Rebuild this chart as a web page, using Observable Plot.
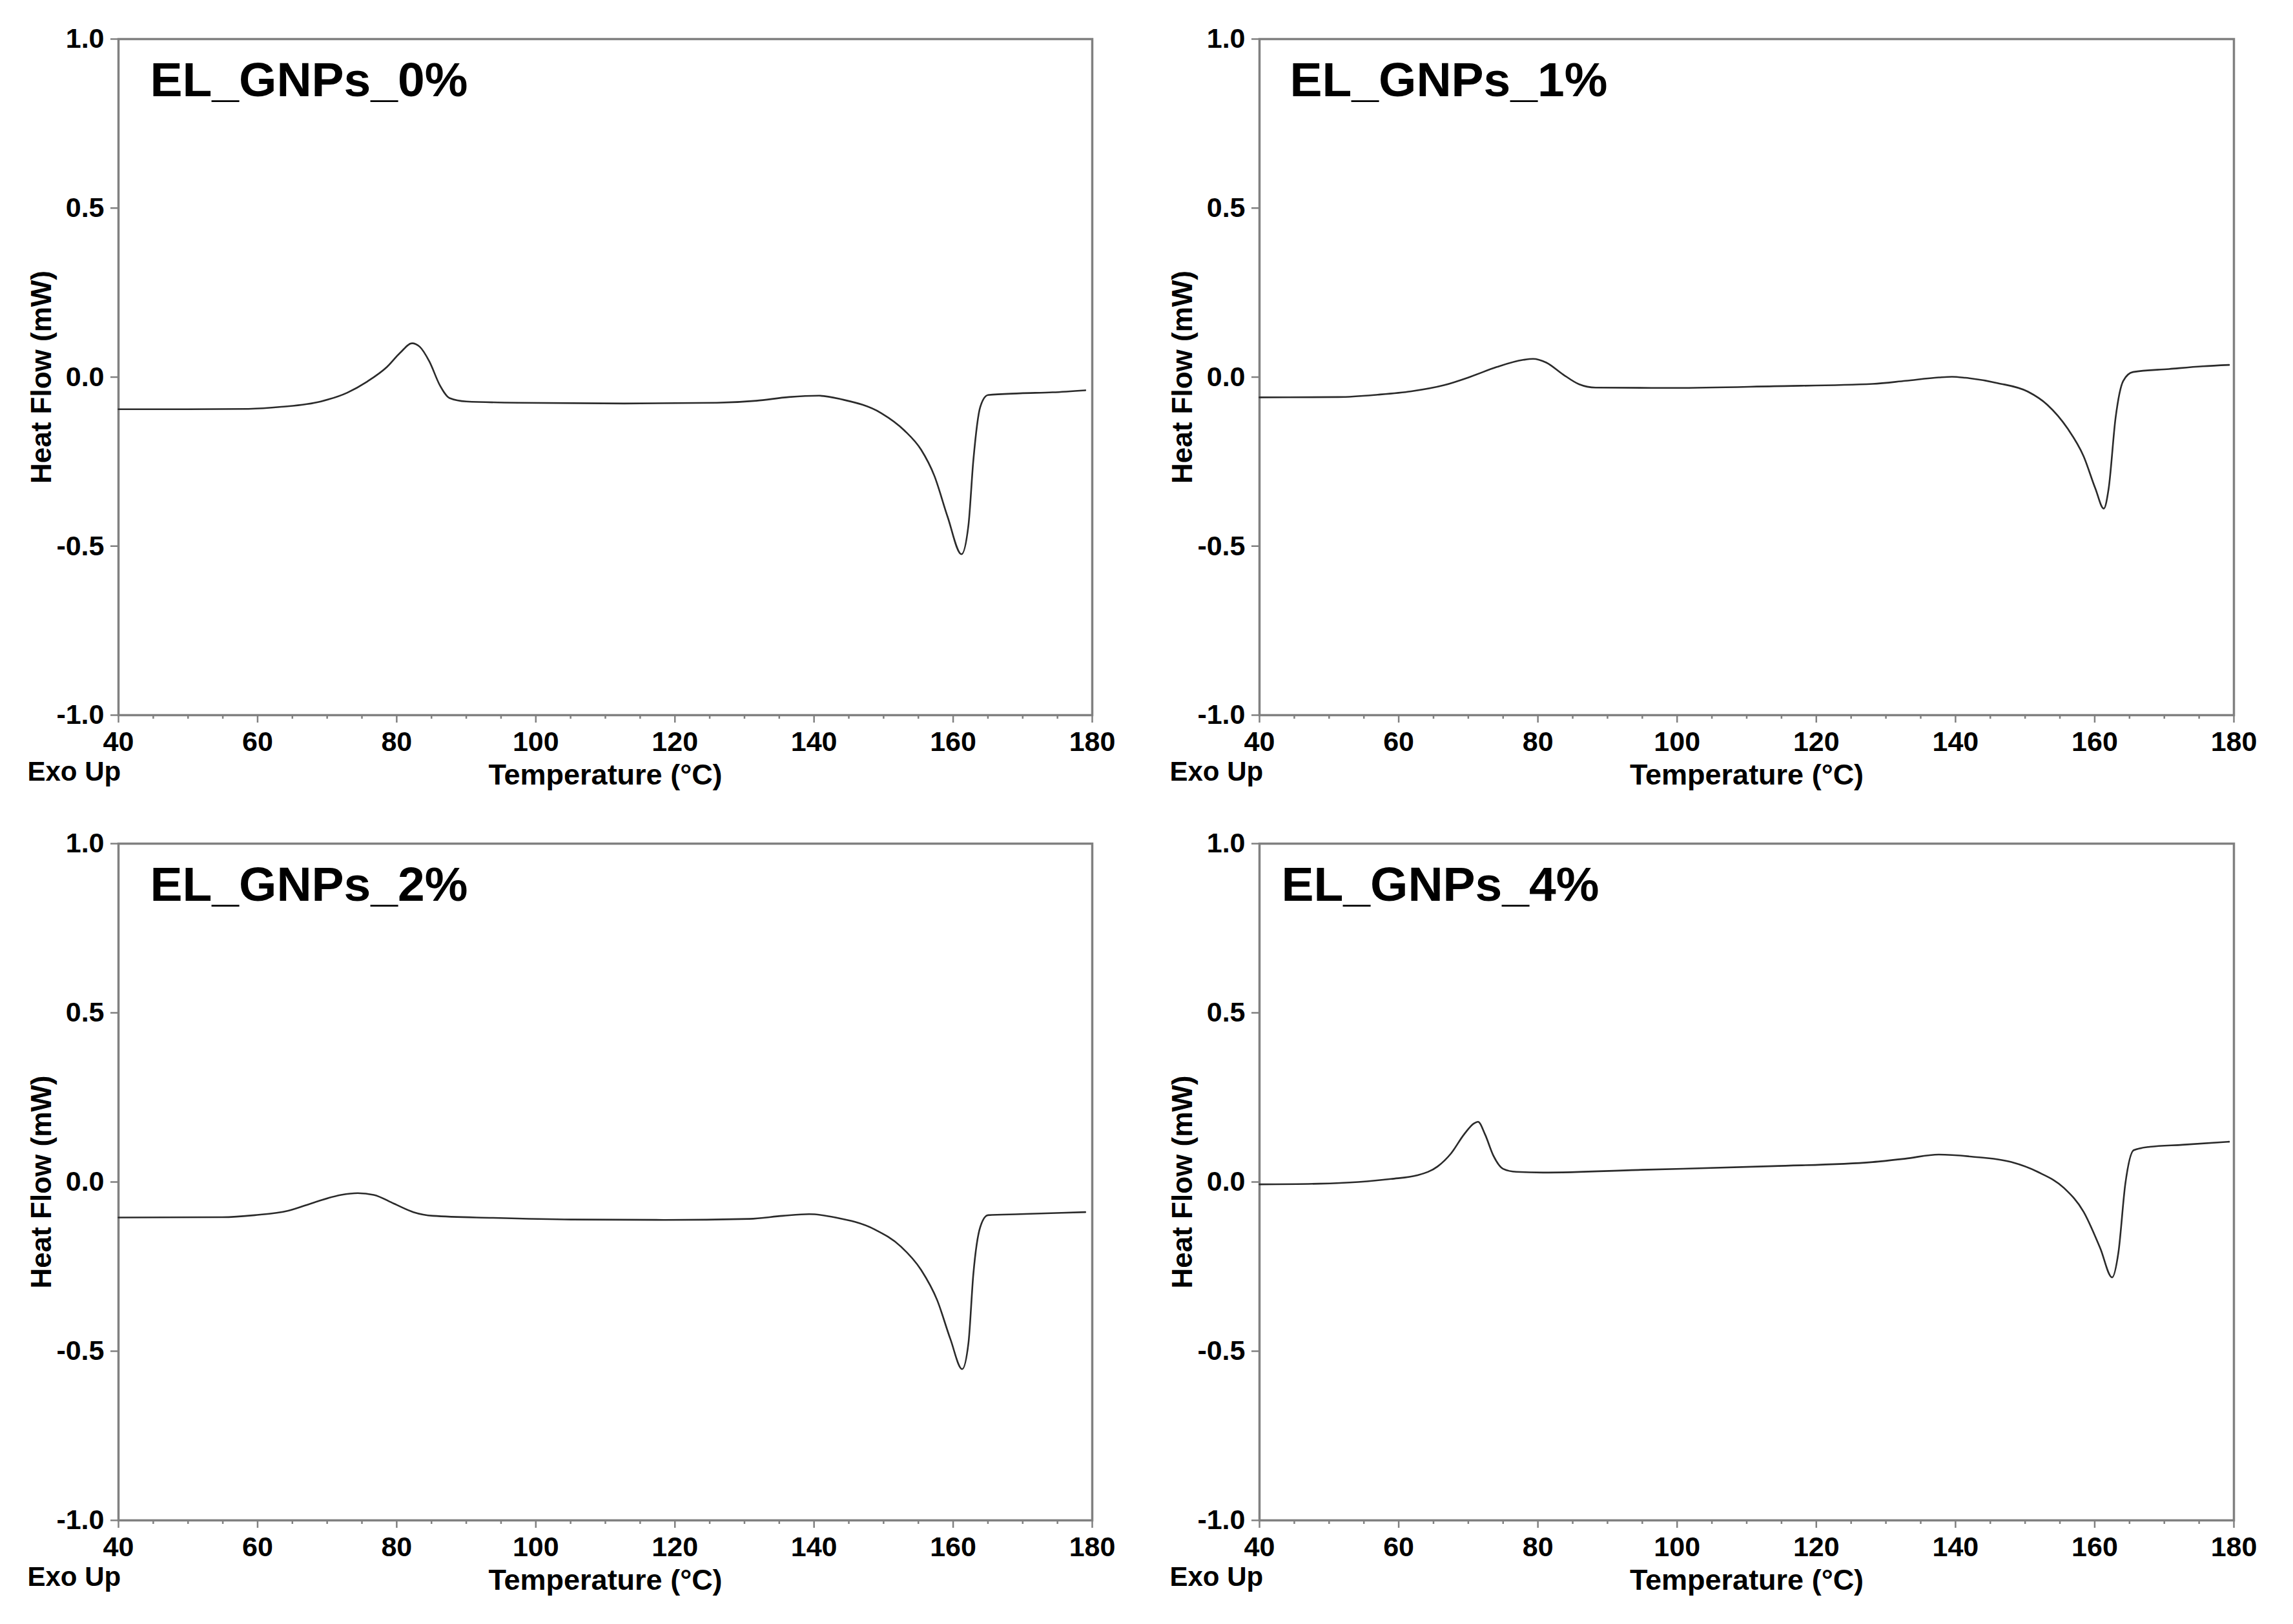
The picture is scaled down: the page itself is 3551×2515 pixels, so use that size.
<!DOCTYPE html>
<html>
<head>
<meta charset="utf-8">
<script src="https://cdn.jsdelivr.net/npm/d3@7"></script>
<script src="https://cdn.jsdelivr.net/npm/@observablehq/plot@0.6"></script>
<style>
  html, body { margin: 0; padding: 0; background: #fff; }
  #wrap { position: relative; width: 3551px; height: 2515px; background: #fff; overflow: hidden; }
  #wrap > svg { position: absolute; }
</style>
</head>
<body>
<div id="wrap"></div>
<script>
// ---- Data ----
const titles = ["EL_GNPs_0%", "EL_GNPs_1%", "EL_GNPs_2%", "EL_GNPs_4%"];

const temp0 = [40, 50, 58.7, 63.4, 69.1, 72.9, 75.7, 78.6, 80.5, 82.2, 83.3, 84.7, 86.2, 87.6, 90, 97.5, 112.7, 126, 131.7, 136.4, 140.7, 144, 149.7, 153, 155.4, 157.3, 159.2, 161.2, 162.2, 162.9, 163.9, 165, 169.6, 174.3, 179];
const flow0 = [-0.095, -0.095, -0.094, -0.088, -0.072, -0.046, -0.014, 0.030, 0.072, 0.100, 0.090, 0.046, -0.024, -0.062, -0.072, -0.076, -0.078, -0.076, -0.070, -0.059, -0.055, -0.066, -0.107, -0.158, -0.215, -0.292, -0.413, -0.524, -0.438, -0.247, -0.088, -0.053, -0.048, -0.045, -0.039];

const temp1 = [40, 51.4, 57, 61.8, 66.5, 70.3, 74.1, 77.9, 79.3, 81.2, 83.6, 85.9, 88.3, 99.7, 113.9, 128.1, 132.8, 137.6, 139.5, 141.4, 146.1, 150.4, 153.2, 156.1, 158.4, 160.1, 161.3, 162, 163, 164.1, 165.5, 170.7, 175.5, 179.3];
const flow1 = [-0.060, -0.059, -0.052, -0.042, -0.024, 0.001, 0.030, 0.051, 0.054, 0.043, 0.008, -0.021, -0.031, -0.032, -0.027, -0.020, -0.011, -0.001, 0.001, -0.002, -0.018, -0.043, -0.082, -0.152, -0.234, -0.330, -0.389, -0.330, -0.120, -0.011, 0.015, 0.024, 0.032, 0.036];

const temp2 = [40, 54.9, 59.6, 64.4, 68.2, 72, 74.4, 76.7, 79.6, 82.4, 85.2, 93.8, 105.1, 118.4, 130.7, 135.5, 139.3, 143.1, 148.7, 152.5, 155.4, 157.7, 159.6, 161.3, 162.2, 162.9, 163.9, 165, 169.6, 179];
const flow2 = [-0.105, -0.104, -0.098, -0.085, -0.060, -0.038, -0.033, -0.038, -0.064, -0.089, -0.100, -0.106, -0.111, -0.112, -0.109, -0.100, -0.095, -0.105, -0.140, -0.191, -0.260, -0.349, -0.464, -0.553, -0.476, -0.273, -0.133, -0.098, -0.095, -0.089];

const temp3 = [40, 48.5, 54.2, 58.9, 62.7, 65.6, 67.5, 69.4, 70.8, 71.4, 72.4, 73.6, 75, 76.9, 80.7, 94.9, 113.9, 128.1, 132.8, 137.6, 142.3, 148, 151.8, 155.6, 158.4, 160.8, 162.5, 163.4, 164.4, 165.6, 167.9, 172.6, 179.3];
const flow3 = [-0.007, -0.005, 0.0, 0.009, 0.020, 0.046, 0.084, 0.141, 0.173, 0.178, 0.141, 0.078, 0.039, 0.030, 0.028, 0.036, 0.047, 0.059, 0.069, 0.081, 0.075, 0.059, 0.030, -0.018, -0.088, -0.196, -0.282, -0.209, -0.005, 0.094, 0.104, 0.110, 0.119];

const xTicks = [40, 60, 80, 100, 120, 140, 160, 180];
const xMinorTicks = [45, 50, 55, 65, 70, 75, 85, 90, 95, 105, 110, 115, 125, 130, 135, 145, 150, 155, 165, 170, 175];
const yTicks = [-1.0, -0.5, 0.0, 0.5, 1.0];
const xLabel = "Temperature (°C)";
const yLabel = "Heat Flow (mW)";
const exoLabel = "Exo Up";

// ---- Layout ----
const temps = [temp0, temp1, temp2, temp3];
const flows = [flow0, flow1, flow2, flow3];
const panels = [
  {left: 0,    top: 0,    width: 1775, height: 1258, ml: 183, mt: 60, mr: 84, mb: 151, tdx: 49, exdx: -141},
  {left: 1775, top: 0,    width: 1776, height: 1258, ml: 175, mt: 60, mr: 92, mb: 151, tdx: 47, exdx: -139},
  {left: 0,    top: 1258, width: 1775, height: 1257, ml: 183, mt: 48, mr: 84, mb: 161, tdx: 49, exdx: -141},
  {left: 1775, top: 1258, width: 1776, height: 1257, ml: 175, mt: 48, mr: 92, mb: 161, tdx: 34, exdx: -139}
];

const FONT = "'Liberation Sans', Arial, Helvetica, sans-serif";
const AXIS = "#808080";
const wrap = document.getElementById("wrap");

panels.forEach((p, i) => {
  const data = temps[i].map((t, k) => ({t, v: flows[i][k]}));
  const chart = Plot.plot({
    width: p.width,
    height: p.height,
    marginLeft: p.ml, marginTop: p.mt, marginRight: p.mr, marginBottom: p.mb,
    style: {fontFamily: FONT, fontWeight: "bold", fontSize: "42px", color: "#000", background: "#fff", overflow: "visible"},
    x: {domain: [40, 180]},
    y: {domain: [-1, 1]},
    marks: [
      Plot.axisX({ticks: xMinorTicks, tickSize: 6, tickFormat: () => "", label: null, stroke: AXIS, strokeWidth: 2.5}),
      Plot.axisX({ticks: xTicks, tickSize: 12, tickPadding: 13, tickFormat: d => String(d), label: null,
                  stroke: AXIS, strokeWidth: 2.5, fill: "#000", fontSize: 43, fontWeight: "bold"}),
      Plot.axisY({ticks: yTicks, tickSize: 12, tickPadding: 10, tickFormat: d => d.toFixed(1), label: null,
                  stroke: AXIS, strokeWidth: 2.5, fill: "#000", fontSize: 43, fontWeight: "bold"}),
      Plot.frame({stroke: AXIS, strokeWidth: 3.5}),
      Plot.line(data, {x: "t", y: "v", stroke: "#2a2a2a", strokeWidth: 2.6, curve: "monotone-x"}),
      Plot.text([titles[i]], {frameAnchor: "top-left", textAnchor: "start", lineAnchor: "middle",
                 dx: p.tdx, dy: 64, fontSize: 75, fontWeight: "bold", fill: "#000"}),
      Plot.text([yLabel], {frameAnchor: "left", textAnchor: "middle", lineAnchor: "middle",
                 rotate: -90, dx: -119, fontSize: 44, fontWeight: "bold", fill: "#000"}),
      Plot.text([xLabel], {frameAnchor: "bottom", textAnchor: "middle", lineAnchor: "middle",
                 dy: 93, fontSize: 45, fontWeight: "bold", fill: "#000"}),
      Plot.text([exoLabel], {frameAnchor: "bottom-left", textAnchor: "start", lineAnchor: "middle",
                 dx: p.exdx, dy: 88, fontSize: 42, fontWeight: "bold", fill: "#000"})
    ]
  });
  chart.style.left = p.left + "px";
  chart.style.top = p.top + "px";
  wrap.appendChild(chart);
});
</script>
</body>
</html>
